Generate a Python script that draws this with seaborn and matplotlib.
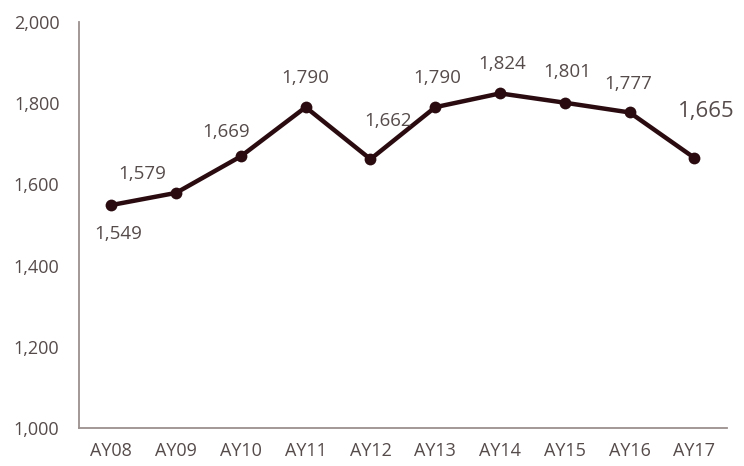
import matplotlib
matplotlib.use('Agg')
import matplotlib.pyplot as plt
import seaborn as sns
import pandas as pd

# Chart data
years = ['AY08', 'AY09', 'AY10', 'AY11', 'AY12', 'AY13', 'AY14', 'AY15', 'AY16', 'AY17']
counts = [1549, 1579, 1669, 1790, 1662, 1790, 1824, 1801, 1777, 1665]
y_ticks = [1000, 1200, 1400, 1600, 1800, 2000]

# label offsets in pixels (dx, dy) relative to each point
label_offsets = [(7, -29), (-34, 19), (-15, 24), (0, 29), (18, 38),
                 (2, 29), (2, 29), (2, 31), (-1, 28), (12, 46)]

line_color = '#2a0b10'
text_color = '#564b4b'
spine_color = '#9b918f'

sns.set_style('white')
plt.rcParams['font.family'] = ['Open Sans', 'DejaVu Sans']

df = pd.DataFrame({'year': years, 'count': counts})

fig = plt.figure(figsize=(7.44, 4.66), dpi=100)
ax = fig.add_axes([0.106, 0.0815, 0.871, 0.8715])

sns.lineplot(data=df, x='year', y='count', ax=ax, color=line_color,
             linewidth=3.2, marker='o', markersize=8.5, markeredgewidth=0,
             sort=False)

for i, (yr, v) in enumerate(zip(years, counts)):
    dx, dy = label_offsets[i]
    size = 16 if i == len(years) - 1 else 13.5
    ax.annotate(f'{v:,}', xy=(i, v), xytext=(dx, dy), textcoords='offset pixels',
                ha='center', va='center', fontsize=size, color=text_color)

ax.set_xlim(-0.5, len(years) - 0.5)
ax.set_ylim(1000, 2000)
ax.set_yticks(y_ticks)
ax.set_yticklabels([f'{t:,}' for t in y_ticks])
ax.set_xlabel('')
ax.set_ylabel('')
ax.tick_params(axis='both', length=0, labelsize=13, labelcolor=text_color)
ax.tick_params(axis='y', pad=14)
ax.tick_params(axis='x', pad=10)

for side in ['top', 'right']:
    ax.spines[side].set_visible(False)
for side in ['left', 'bottom']:
    ax.spines[side].set_color(spine_color)
    ax.spines[side].set_linewidth(1.3)

fig.savefig('out.png', dpi=100)
plt.close(fig)
